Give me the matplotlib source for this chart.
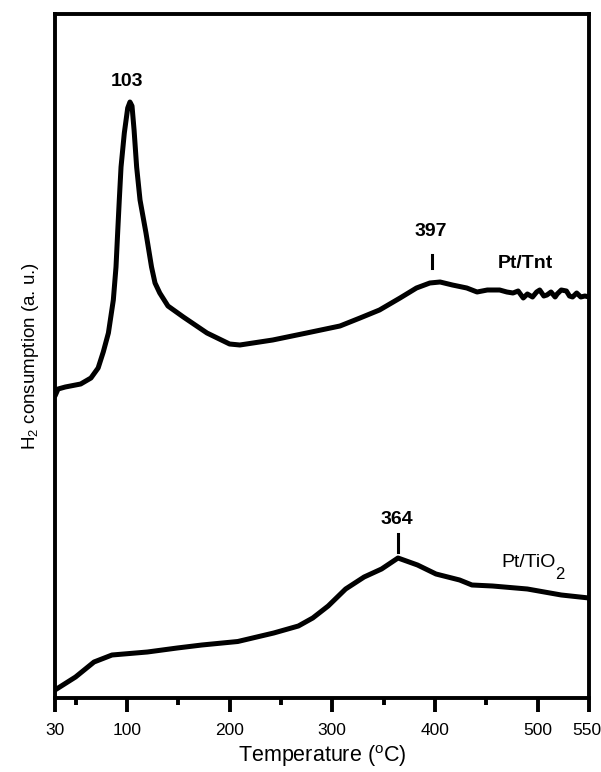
import numpy as np
import matplotlib
matplotlib.use("Agg")
from matplotlib import pyplot as plt
import matplotlib.transforms as mtrans

plt.rcParams['font.family'] = ['Liberation Sans', 'DejaVu Sans']
plt.rcParams['mathtext.fontset'] = 'custom'
plt.rcParams['mathtext.rm'] = 'Liberation Sans'
plt.rcParams['mathtext.default'] = 'regular'

# Pt/Tnt TPR trace (temperature in C, signal in a.u.)
tnt_temp = [30, 33, 40, 55, 65, 72, 77, 82, 86.8, 89.4, 91, 92.6, 94.3, 97.5, 100.8,
            103, 105, 107, 109.5, 112.8, 118.6, 124, 127.4, 132, 140, 155, 178, 200,
            210, 242, 275, 307.5, 327, 346, 366, 382, 395, 405, 417, 431, 441, 451,
            463, 470, 476, 481, 486, 490, 495, 499, 502, 506, 509, 513, 517, 519,
            523, 528, 531, 534, 538, 542, 546, 550]
tnt_signal = [302, 309, 311, 314, 320, 330, 346, 365, 398, 431, 465, 498, 531, 565, 590,
              596, 592, 568, 531, 498, 465, 431, 415, 405, 392, 381, 365, 354,
              353, 358, 365, 372, 380, 388, 400, 410, 415, 416, 413, 410, 406, 408,
              408, 406, 405, 407, 400, 404, 401, 406, 408, 402, 403, 406, 401, 404,
              408, 407, 402, 401, 405, 401, 402, 401]

# Pt/TiO2 TPR trace
tio2_temp = [30, 50, 68, 85.5, 120, 149, 173, 208, 243, 267, 281, 296, 313, 331, 348,
             364, 383, 401, 424, 436, 456, 490, 523, 550]
tio2_signal = [8, 21, 36, 43, 46, 50, 53, 56.5, 65, 72, 80, 92, 109, 121, 129,
               140, 133, 124, 118, 113, 112, 109, 103, 100]

major_ticks = [30, 100, 200, 300, 400, 500, 550]
minor_ticks = [50, 150, 250, 350, 450]

fig = plt.figure(figsize=(6.01, 7.72), dpi=100)
ax = fig.add_axes([55 / 601, 1 - 698 / 772, 534 / 601, 684 / 772])

ax.plot(tnt_temp, tnt_signal, color='black', lw=3.6, solid_capstyle='round', solid_joinstyle='round')
ax.plot(tio2_temp, tio2_signal, color='black', lw=3.6, solid_capstyle='round', solid_joinstyle='round')

ax.set_xlim(30, 550)
ax.set_ylim(0, 684)
ax.set_xticks(major_ticks)
ax.set_xticks(minor_ticks, minor=True)
ax.set_yticks([])
ax.tick_params(axis='x', which='major', direction='out', length=10, width=2.8, labelsize=12.5, pad=8)
ax.tick_params(axis='x', which='minor', direction='out', length=5, width=2.8)
for sp in ax.spines.values():
    sp.set_linewidth(2.8)
# keep the last label inside the figure
labels = ax.get_xticklabels()
labels[-1].set_horizontalalignment('right')
off = mtrans.ScaledTranslation(12 / 100, 0, fig.dpi_scale_trans)
labels[-1].set_transform(labels[-1].get_transform() + off)

ax.set_xlabel(r'Temperature ($^{o}$C)', fontsize=15.5, labelpad=4)
ax.set_ylabel(r'H$_2$ consumption (a. u.)', fontsize=13.5, labelpad=10)

# peak labels
ax.text(100, 617, '103', fontsize=14, fontweight='bold', ha='center', va='center')
ax.text(396, 467, '397', fontsize=14, fontweight='bold', ha='center', va='center')
ax.plot([397, 397], [430, 443], color='black', lw=2.2)
ax.text(488, 435, 'Pt/Tnt', fontsize=14, fontweight='bold', ha='center', va='center')
ax.text(363, 179, '364', fontsize=14, fontweight='bold', ha='center', va='center')
ax.plot([364, 364], [146, 164], color='black', lw=2.2)
ax.text(465, 131, 'Pt/TiO', fontsize=14, ha='left', va='baseline')
ax.text(517, 119, '2', fontsize=12, ha='left', va='baseline')

fig.savefig('out.png', dpi=100)
